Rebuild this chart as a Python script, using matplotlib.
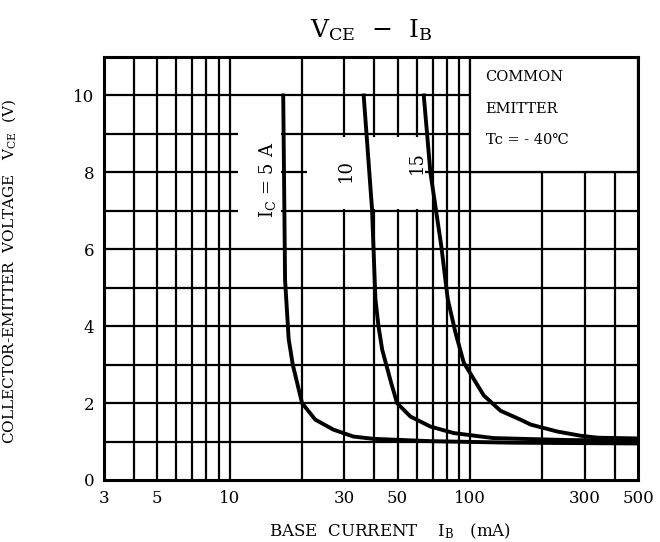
import matplotlib; matplotlib.use("Agg")
import matplotlib.pyplot as plt
from matplotlib.patches import Rectangle

# ---- data (IB in mA, VCE in V) ----
ib_5a  = [16.7, 17.0, 17.6, 18.3, 20.0, 22.7, 27.0, 32.7, 39.7, 68.4, 150, 500]
vce_5a = [10.0, 5.2, 3.66, 3.0, 2.0, 1.57, 1.31, 1.13, 1.07, 1.01, 0.97, 0.95]
ib_10a  = [36.1, 39.1, 40.4, 41.6, 43.1, 47.0, 49.7, 56.5, 68.4, 85.6, 125, 250, 500]
vce_10a = [10.0, 7.05, 4.7, 4.0, 3.39, 2.52, 2.0, 1.65, 1.39, 1.22, 1.09, 1.04, 1.02]
ib_15a  = [64.2, 68.4, 75.9, 80.8, 87.0, 94.2, 114, 134, 162, 179, 231, 289, 340, 500]
vce_15a = [10.0, 8.0, 6.09, 4.7, 3.83, 3.05, 2.2, 1.8, 1.57, 1.44, 1.26, 1.15, 1.1, 1.08]

x_grid = [4, 5, 6, 7, 8, 9, 10, 20, 30, 40, 50, 60, 70, 80, 90, 100, 200, 300, 400]
y_grid = [1, 2, 3, 4, 5, 6, 7, 8, 9, 10]
x_ticks = [3, 5, 10, 30, 50, 100, 300, 500]
y_ticks = [0, 2, 4, 6, 8, 10]

FONT = "DejaVu Serif"
plt.rcParams["font.family"] = FONT
plt.rcParams["mathtext.fontset"] = "custom"
plt.rcParams["mathtext.rm"] = FONT
plt.rcParams["mathtext.it"] = FONT

fig = plt.figure(figsize=(6.6, 5.42), dpi=100)
ax = fig.add_axes([0.1576, 0.1144, 0.8091, 0.7804])
ax.set_xscale("log")
ax.set_xlim(3, 500); ax.set_ylim(0, 11)

gw = 1.6
ax.vlines(x_grid, 0, 11, colors="k", lw=gw, zorder=1)
ax.hlines(y_grid, 3, 500, colors="k", lw=gw, zorder=1)

# blanked areas behind the curve labels and the condition note
ax.add_patch(Rectangle((10.8, 6.5), 5.5, 3.35, facecolor="white", edgecolor="none", zorder=2))
ax.add_patch(Rectangle((21, 7.06), 44, 1.87, facecolor="white", edgecolor="none", zorder=2))
ax.add_patch(Rectangle((100, 8), 400, 3, facecolor="white", edgecolor="k", lw=gw, zorder=2))
ax.text(116, 10.65, "COMMON\nEMITTER\nTc = - 40\u2103", ha="left", va="top",
        fontsize=10.5, linespacing=2.55, zorder=3)

for x, y in [(ib_5a, vce_5a), (ib_10a, vce_10a), (ib_15a, vce_15a)]:
    ax.plot(x, y, color="k", lw=2.8, solid_joinstyle="round", zorder=4)

lab = dict(rotation=90, ha="center", va="center", fontsize=13, zorder=3)
ax.text(14.3, 7.8, r"I$_{\mathrm{C}}$ = 5 A", **lab)
ax.text(30.3, 8.05, "10", **lab)
ax.text(59.9, 8.25, "15", **lab)

for s in ax.spines.values():
    s.set_linewidth(2.2)
ax.set_xticks(x_ticks)
ax.set_xticklabels([str(t) for t in x_ticks])
ax.xaxis.set_minor_locator(matplotlib.ticker.NullLocator())
ax.set_yticks(y_ticks)
ax.tick_params(length=0, labelsize=12, pad=7)

ax.text(0.5, 1.064, r"V$_{\mathrm{CE}}$  $-$  I$_{\mathrm{B}}$", transform=ax.transAxes,
        ha="center", va="center", fontsize=18)
ax.set_xlabel(r"BASE  CURRENT    I$_{\mathrm{B}}$   (mA)", fontsize=12)
ax.xaxis.set_label_coords(0.535, -0.099)
ax.set_ylabel(r"COLLECTOR-EMITTER  VOLTAGE   V$_{\mathrm{CE}}$  (V)", fontsize=11)
ax.yaxis.set_label_coords(-0.162, 0.494)

fig.savefig("out.png", dpi=100)
